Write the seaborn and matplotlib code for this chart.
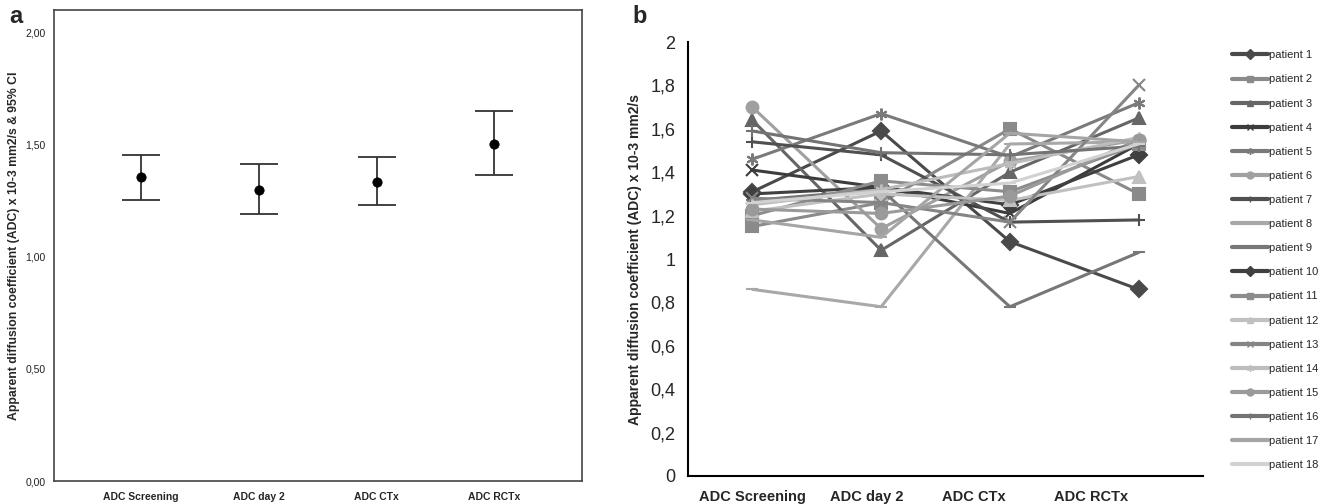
import matplotlib
matplotlib.use("Agg")
import matplotlib.pyplot as plt
from matplotlib.lines import Line2D
import seaborn as sns
import pandas as pd

visits = ['ADC Screening', 'ADC day 2', 'ADC CTx', 'ADC RCTx']

# panel a: mean and 95% CI
mean_adc = [1.355, 1.30, 1.335, 1.505]
ci_low = [1.255, 1.19, 1.23, 1.365]
ci_high = [1.455, 1.415, 1.445, 1.65]

# panel b: per-patient ADC
patients = ['patient %d' % i for i in range(1, 19)]
adc = {
    'patient 1': [1.31, 1.59, 1.08, 0.86],
    'patient 2': [1.15, 1.26, 1.60, 1.30],
    'patient 3': [1.64, 1.04, 1.40, 1.65],
    'patient 4': [1.41, 1.33, 1.21, 1.53],
    'patient 5': [1.46, 1.67, 1.47, 1.72],
    'patient 6': [1.70, 1.14, 1.45, 1.55],
    'patient 7': [1.54, 1.48, 1.17, 1.18],
    'patient 8': [0.86, 0.78, 1.53, 1.54],
    'patient 9': [1.27, 1.32, 0.78, 1.03],
    'patient 10': [1.30, 1.33, 1.25, 1.48],
    'patient 11': [1.20, 1.36, 1.31, 1.53],
    'patient 12': [1.22, 1.30, 1.27, 1.38],
    'patient 13': [1.28, 1.26, 1.17, 1.80],
    'patient 14': [1.25, 1.32, 1.44, 1.56],
    'patient 15': [1.23, 1.21, 1.29, 1.55],
    'patient 16': [1.59, 1.49, 1.48, 1.52],
    'patient 17': [1.18, 1.10, 1.58, 1.54],
    'patient 18': [1.26, 1.31, 1.35, 1.53],
}

grays = ['#4a4a4a', '#8a8a8a', '#666666', '#3c3c3c', '#7a7a7a', '#a0a0a0',
         '#505050', '#a8a8a8', '#777777', '#404040', '#8c8c8c', '#c0c0c0',
         '#858585', '#bcbcbc', '#9a9a9a', '#737373', '#a5a5a5', '#d2d2d2']
star = (6, 2, 0)
marks = ['D', 's', '^', 'x', star, 'o', '+', '_', '_', 'D', 's', '^', 'x', star,
         'o', '+', '_', '_']

sns.set_style("white")
plt.rcParams['font.family'] = ['Liberation Sans', 'DejaVu Sans']

fig = plt.figure(figsize=(13.29, 5.04), dpi=100)

# ---- panel a
ax1 = fig.add_axes([0.0406, 0.0456, 0.397, 0.934])
pos = list(range(len(visits)))
yerr = [[m - l for m, l in zip(mean_adc, ci_low)], [h - m for m, h in zip(mean_adc, ci_high)]]
ax1.errorbar(pos, mean_adc, yerr=yerr, fmt='none', ecolor='#333333', elinewidth=1.3,
             capsize=14, capthick=1.3)
sns.scatterplot(x=pos, y=mean_adc, ax=ax1, color='black', s=45, zorder=3, edgecolor='black')
ax1.set_xlim(-0.74, 3.74)
ax1.set_ylim(0, 2.1)
ax1.set_yticks([0, 0.5, 1.0, 1.5, 2.0])
ax1.set_yticklabels(['0,00', '0,50', '1,00', '1,50', '2,00'], fontsize=7.5, color='#222222')
ax1.set_xticks(pos)
ax1.set_xticklabels(visits, fontsize=7.5, fontweight='bold')
ax1.tick_params(axis='both', direction='out', length=4, width=1, color='#333333', pad=2)
ax1.tick_params(axis='x', length=6)
for s in ax1.spines.values():
    s.set_color('#444444')
    s.set_linewidth(1.2)
ax1.set_ylabel('Apparent diffusion coefficient (ADC) x 10-3 mm2/s & 95% CI',
               fontsize=8.8, fontweight='bold', labelpad=4)
fig.text(0.007, 0.955, 'a', fontsize=17, fontweight='bold')

# ---- panel b
rows = []
for p in patients:
    for i, v in enumerate(adc[p]):
        rows.append({'patient': p, 'visit': i, 'adc': v})
df = pd.DataFrame(rows)

ax2 = fig.add_axes([0.5177, 0.0556, 0.3875, 0.861])
for p, c, m in zip(patients, grays, marks):
    sns.lineplot(data=df[df['patient'] == p], x='visit', y='adc', color=c,
                 marker=m, linewidth=2.2, markersize=8.5, markeredgewidth=1.5,
                 markeredgecolor=c, ax=ax2)
ax2.set_xlim(-0.5, 3.5)
ax2.set_ylim(0, 2.0)
yt = [0, 0.2, 0.4, 0.6, 0.8, 1.0, 1.2, 1.4, 1.6, 1.8, 2.0]
ax2.set_yticks(yt)
ax2.set_yticklabels([('%g' % t).replace('.', ',') for t in yt], fontsize=13)
ax2.set_xticks([0, 0.89, 1.72, 2.63])
ax2.set_xticklabels(visits, fontsize=10.5, fontweight='bold')
ax2.tick_params(axis='y', direction='out', length=5, width=1.3, color='black', pad=4)
ax2.tick_params(axis='x', length=0, pad=10)
ax2.spines['top'].set_visible(False)
ax2.spines['right'].set_visible(False)
ax2.spines['left'].set_linewidth(1.5)
ax2.spines['bottom'].set_linewidth(1.5)
ax2.spines['left'].set_color('black')
ax2.spines['bottom'].set_color('black')
ax2.set_xlabel('')
ax2.set_ylabel('Apparent diffusion coefficient (ADC) x 10-3 mm2/s', fontsize=10,
               fontweight='bold', labelpad=6)
fig.text(0.476, 0.955, 'b', fontsize=17, fontweight='bold')

handles = [Line2D([], [], color=c, marker=m, lw=3, markersize=5, markeredgewidth=1,
                  markeredgecolor=c) for c, m in zip(grays, marks)]
fig.legend(handles, patients, loc='upper left', bbox_to_anchor=(0.924, 0.909),
           frameon=False, fontsize=8, handlelength=3.2, handletextpad=0.1,
           labelspacing=1.27, borderaxespad=0)

fig.savefig('out.png', dpi=100)
